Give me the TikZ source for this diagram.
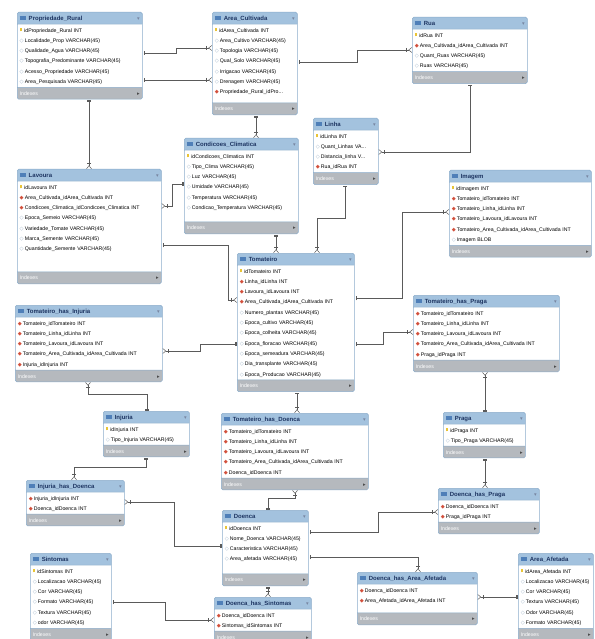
\documentclass[tikz,border=0pt]{standalone}
\usepackage{fontspec}
\setmainfont{Liberation Sans}
\newfontfamily\symf{DejaVu Sans}
\usepackage{xcolor}
\usetikzlibrary{arrows.meta, shapes}

\definecolor{hdrc}{HTML}{A3C2DE}
\definecolor{ftrc}{HTML}{B5B9BE}
\definecolor{bordc}{HTML}{8CADCB}
\definecolor{titc}{HTML}{1D3461}
\definecolor{rowc}{HTML}{4A4A4A}
\definecolor{keyc}{HTML}{E9C437}
\definecolor{fkc}{HTML}{D2503C}
\definecolor{atc}{HTML}{9DB3C8}
\definecolor{linec}{HTML}{5A5A5A}
\definecolor{iconc}{HTML}{4F7FB8}

\newcommand{\pkey}{\strut{\color{keyc}\rule[0.6pt]{2.2pt}{3pt}}\hspace{2.3pt}}
\newcommand{\fkey}{\strut{\color{fkc}\symf ◆}\hspace{1.2pt}}
\newcommand{\attr}{\strut{\color{atc}\symf ◇}\hspace{1.2pt}}
\newcommand{\tbltitle}[1]{\strut{\color{iconc}\rule[-0.2pt]{6pt}{4.6pt}}\hspace{3pt}{\bfseries\fontsize{6}{10.3}\selectfont\color{titc}#1}\hskip0pt plus1fill{\symf\color{titc!60}▾}}
\newcommand{\tblfoot}{\strut{\color{white}Indexes}\hskip0pt plus1fill{\symf\color{rowc}▸}}

\begin{document}
\begin{tikzpicture}[x=1pt, y=-1pt]
	\tikzstyle{tbl} = [rectangle split, rectangle split parts=3, rectangle split part fill={hdrc,white,ftrc}, draw=bordc, line width=0.5pt, rounded corners=1.5pt, anchor=north west, align=left, inner xsep=2.5pt, inner ysep=0.5pt, text=rowc, font=\fontsize{5.2}{10.3}\selectfont]
	\tikzstyle{rel} = [draw=linec, line width=0.5pt, arrows={{Bar[width=4pt,sep=1pt]Bar[width=4pt]}-{Bar[width=4pt,sep=1.5pt]Straight Barb[reversed,length=3pt,width=5pt]}}]

	\fill[white] (0,0) rectangle (594,639);
	\useasboundingbox (0,0) rectangle (594,639);

	% tables
	\node[tbl, text width=120pt] (prop) at (17,12) {\tbltitle{Propriedade\_Rural}\nodepart{two}\pkey idPropriedade\_Rural INT\\\attr Localidade\_Prop VARCHAR(45)\\\attr Qualidade\_Agua VARCHAR(45)\\\attr Topografia\_Predominante VARCHAR(45)\\\attr Acesso\_Propriedade VARCHAR(45)\\\attr Area\_Pesquisada VARCHAR(45)\nodepart{three}\tblfoot};
	\node[tbl, text width=80pt] (area) at (212,12) {\tbltitle{Area\_Cultivada}\nodepart{two}\pkey idArea\_Cultivada INT\\\attr Area\_Cultivo VARCHAR(45)\\\attr Topologia VARCHAR(45)\\\attr Qual\_Solo VARCHAR(45)\\\attr Irrigacao VARCHAR(45)\\\attr Drenagem VARCHAR(45)\\\fkey Propriedade\_Rural\_idPro...\rule[-8.4pt]{0pt}{1pt}\nodepart{three}\tblfoot};
	\node[tbl, text width=110pt] (rua) at (412,17) {\tbltitle{Rua}\nodepart{two}\pkey idRua INT\\\fkey Area\_Cultivada\_idArea\_Cultivada INT\\\attr Quant\_Ruas VARCHAR(45)\\\attr Ruas VARCHAR(45)\nodepart{three}\tblfoot};
	\node[tbl, text width=60pt] (linha) at (313,118) {\tbltitle{Linha}\nodepart{two}\pkey idLinha INT\\\attr Quant\_Linhas VA...\\\attr Distancia\_linha V...\\\fkey Rua\_idRua INT\nodepart{three}\tblfoot};
	\node[tbl, text width=139pt] (lav) at (17,169) {\tbltitle{Lavoura}\nodepart{two}\pkey idLavoura INT\\\fkey Area\_Cultivada\_idArea\_Cultivada INT\\\fkey Condicoes\_Climatica\_idCondicoes\_Climatica INT\\\attr Epoca\_Semeio VARCHAR(45)\\\attr Variedade\_Tomate VARCHAR(45)\\\attr Marca\_Semente VARCHAR(45)\\\attr Quantidade\_Semente VARCHAR(45)\rule[-20.4pt]{0pt}{1pt}\nodepart{three}\tblfoot};
	\node[tbl, text width=109pt] (cc) at (184,138) {\tbltitle{Condicoes\_Climatica}\nodepart{two}\pkey idCondicoes\_Climatica INT\\\attr Tipo\_Clima VARCHAR(45)\\\attr Luz VARCHAR(45)\\\attr Umidade VARCHAR(45)\\\attr Temperatura VARCHAR(45)\\\attr Condicao\_Temperatura VARCHAR(45)\rule[-11.7pt]{0pt}{1pt}\nodepart{three}\tblfoot};
	\node[tbl, text width=137pt] (img) at (449,170) {\tbltitle{Imagem}\nodepart{two}\pkey idImagem INT\\\fkey Tomateiro\_idTomateiro INT\\\fkey Tomateiro\_Linha\_idLinha INT\\\fkey Tomateiro\_Lavoura\_idLavoura INT\\\fkey Tomateiro\_Area\_Cultivada\_idArea\_Cultivada INT\\\attr Imagem BLOB\nodepart{three}\tblfoot};
	\node[tbl, text width=112pt] (tom) at (237,253) {\tbltitle{Tomateiro}\nodepart{two}\pkey idTomateiro INT\\\fkey Linha\_idLinha INT\\\fkey Lavoura\_idLavoura INT\\\fkey Area\_Cultivada\_idArea\_Cultivada INT\\\attr Numero\_plantas VARCHAR(45)\\\attr Epoca\_cultivo VARCHAR(45)\\\attr Epoca\_colheita VARCHAR(45)\\\attr Epoca\_floracao VARCHAR(45)\\\attr Epoca\_semeadura VARCHAR(45)\\\attr Dia\_transplante VARCHAR(45)\\\attr Epoca\_Producao VARCHAR(45)\nodepart{three}\tblfoot};
	\node[tbl, text width=142pt] (ti) at (15,305) {\tbltitle{Tomateiro\_has\_Injuria}\nodepart{two}\fkey Tomateiro\_idTomateiro INT\\\fkey Tomateiro\_Linha\_idLinha INT\\\fkey Tomateiro\_Lavoura\_idLavoura INT\\\fkey Tomateiro\_Area\_Cultivada\_idArea\_Cultivada INT\\\fkey Injuria\_idInjuria INT\nodepart{three}\tblfoot};
	\node[tbl, text width=141pt] (tp) at (413,295) {\tbltitle{Tomateiro\_has\_Praga}\nodepart{two}\fkey Tomateiro\_idTomateiro INT\\\fkey Tomateiro\_Linha\_idLinha INT\\\fkey Tomateiro\_Lavoura\_idLavoura INT\\\fkey Tomateiro\_Area\_Cultivada\_idArea\_Cultivada INT\\\fkey Praga\_idPraga INT\nodepart{three}\tblfoot};
	\node[tbl, text width=81pt] (inj) at (103,411) {\tbltitle{Injuria}\nodepart{two}\pkey idInjuria INT\\\attr Tipo\_Injuria VARCHAR(45)\nodepart{three}\tblfoot};
	\node[tbl, text width=142pt] (td) at (221,413) {\tbltitle{Tomateiro\_has\_Doenca}\nodepart{two}\fkey Tomateiro\_idTomateiro INT\\\fkey Tomateiro\_Linha\_idLinha INT\\\fkey Tomateiro\_Lavoura\_idLavoura INT\\\fkey Tomateiro\_Area\_Cultivada\_idArea\_Cultivada INT\\\fkey Doenca\_idDoenca INT\nodepart{three}\tblfoot};
	\node[tbl, text width=77pt] (praga) at (443,412) {\tbltitle{Praga}\nodepart{two}\pkey idPraga INT\\\attr Tipo\_Praga VARCHAR(45)\nodepart{three}\tblfoot};
	\node[tbl, text width=93pt] (ihd) at (26,480) {\tbltitle{Injuria\_has\_Doenca}\nodepart{two}\fkey Injuria\_idInjuria INT\\\fkey Doenca\_idDoenca INT\nodepart{three}\tblfoot};
	\node[tbl, text width=96pt] (dhp) at (438,488) {\tbltitle{Doenca\_has\_Praga}\nodepart{two}\fkey Doenca\_idDoenca INT\\\fkey Praga\_idPraga INT\nodepart{three}\tblfoot};
	\node[tbl, text width=81pt] (doe) at (222,510) {\tbltitle{Doenca}\nodepart{two}\pkey idDoenca INT\\\attr Nome\_Doenca VARCHAR(45)\\\attr Caracteristica VARCHAR(45)\\\attr Area\_afetada VARCHAR(45)\rule[-12.3pt]{0pt}{1pt}\nodepart{three}\tblfoot};
	\node[tbl, text width=76pt] (sin) at (30,553) {\tbltitle{Sintomas}\nodepart{two}\pkey idSintomas INT\\\attr Localizacao VARCHAR(45)\\\attr Cor VARCHAR(45)\\\attr Formato VARCHAR(45)\\\attr Textura VARCHAR(45)\\\attr odor VARCHAR(45)\nodepart{three}\tblfoot};
	\node[tbl, text width=92pt] (dhs) at (214,597) {\tbltitle{Doenca\_has\_Sintomas}\nodepart{two}\fkey Doenca\_idDoenca INT\\\fkey Sintomas\_idSintomas INT\nodepart{three}\tblfoot};
	\node[tbl, text width=115pt] (dha) at (357,572) {\tbltitle{Doenca\_has\_Area\_Afetada}\nodepart{two}\fkey Doenca\_idDoenca INT\\\fkey Area\_Afetada\_idArea\_Afetada INT\rule[-9.9pt]{0pt}{1pt}\nodepart{three}\tblfoot};
	\node[tbl, text width=70pt] (aa) at (518,553) {\tbltitle{Area\_Afetada}\nodepart{two}\pkey idArea\_Afetada INT\\\attr Localizacao VARCHAR(45)\\\attr Cor VARCHAR(45)\\\attr Textura VARCHAR(45)\\\attr Odor VARCHAR(45)\\\attr Formato VARCHAR(45)\nodepart{three}\tblfoot};

	% relations
	\draw[rel] (prop.east |- 0,53) -| (176,48) -- (area.west |- 0,48);
	\draw[rel] (prop.east |- 0,80) -- (area.west |- 0,80);
	\draw[rel] (prop.south -| 89,0) -- (lav.north -| 89,0);
	\draw[rel] (area.east |- 0,62) -| (357,50) -- (rua.west |- 0,50);
	\draw[rel] (rua.south -| 470,0) |- (linha.east |- 0,152);
	\draw[rel] (area.south -| 256,0) -- (cc.north -| 256,0);
	\draw[rel] (cc.west |- 0,184) -| (172,206) -- (lav.east |- 0,206);
	\draw[rel] (lav.east |- 0,245) -| (228,300) -- (tom.west |- 0,300);
	\draw[rel] (linha.south -| 345,0) |- (317,218) -- (tom.north -| 317,0);
	\draw[rel] (cc.south -| 276,0) -- (tom.north -| 276,0);
	\draw[rel] (tom.east |- 0,298) -| (402,212) -- (img.west |- 0,212);
	\draw[rel] (tom.east |- 0,344) -| (383,332) -- (tp.west |- 0,332);
	\draw[rel] (tom.west |- 0,344) -| (200,351) -- (ti.east |- 0,351);
	\draw[rel] (tom.south -| 297,0) -- (td.north -| 297,0);
	\draw[rel] (inj.north -| 147,0) |- (88,394) -- (ti.south -| 88,0);
	\draw[rel] (praga.north -| 485,0) -- (tp.south -| 485,0);
	\draw[rel] (inj.south -| 146,0) |- (74,467) -- (ihd.north -| 74,0);
	\draw[rel] (doe.west |- 0,546) -| (174,502) -- (ihd.east |- 0,502);
	\draw[rel] (doe.north -| 268,0) |- (295,498) -- (td.south -| 295,0);
	\draw[rel] (praga.south -| 485,0) -- (dhp.north -| 485,0);
	\draw[rel] (doe.east |- 0,532) -| (378,512) -- (dhp.west |- 0,512);
	\draw[rel] (doe.east |- 0,557) -| (dha.north -| 418,0);
	\draw[rel] (doe.south -| 268,0) -- (dhs.north -| 268,0);
	\draw[rel] (sin.east |- 0,602) -| (165,620) -- (dhs.west |- 0,620);
	\draw[rel] (aa.west |- 0,597) -- (dha.east |- 0,597);
\end{tikzpicture}
\end{document}
